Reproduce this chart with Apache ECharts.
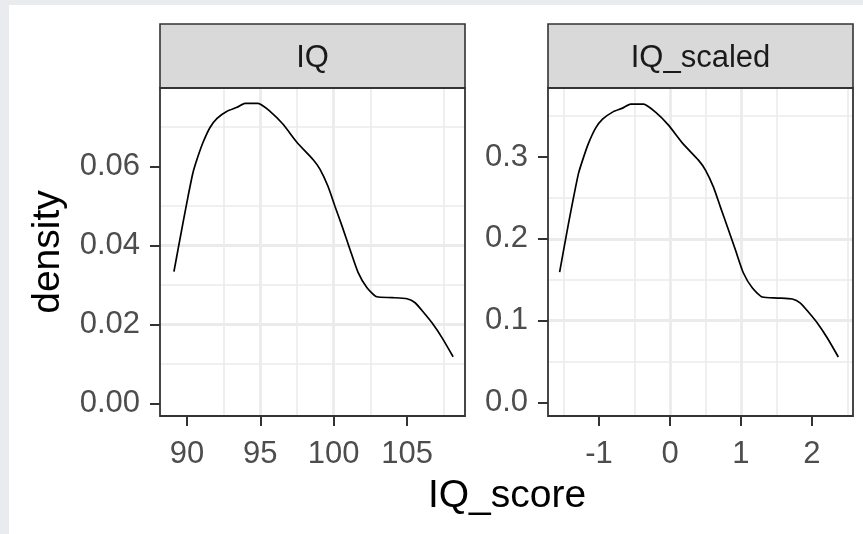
<!DOCTYPE html>
<html>
<head>
<meta charset="utf-8">
<script src="https://cdn.jsdelivr.net/npm/echarts@6/dist/echarts.min.js"></script>
<style>
html,body{margin:0;padding:0;background:#fff;}
#chart{width:863px;height:534px;}
</style>
</head>
<body>
<div id="chart"></div>
<script>
// 左边面板：原始 IQ 的密度曲线
const iqX = [89.11, 89.39, 89.73, 90.07, 90.41, 90.75, 91.09, 91.57, 92.05, 92.73, 93.41, 93.95, 94.84,
  95.66, 96.55, 97.50, 98.59, 99.07, 99.61, 100.09, 100.57, 101.11, 101.66, 102.27, 102.95, 103.98,
  105.00, 105.55, 106.09, 106.70, 107.39, 108.14];
const iqY = [0.0334, 0.0390, 0.0458, 0.0524, 0.0585, 0.0626, 0.0661, 0.0699, 0.0722, 0.0740, 0.0750,
  0.0760, 0.0760, 0.0740, 0.0707, 0.0661, 0.0618, 0.0593, 0.0550, 0.0499, 0.0449, 0.0390, 0.0332,
  0.0293, 0.0270, 0.0268, 0.0265, 0.0255, 0.0232, 0.0204, 0.0166, 0.0118];
// 右边面板：标准化后的 IQ
const scaledX = [-1.556, -1.500, -1.430, -1.359, -1.289, -1.218, -1.148, -1.049, -0.951, -0.810, -0.669,
  -0.556, -0.373, -0.204, -0.021, 0.176, 0.401, 0.500, 0.613, 0.711, 0.810, 0.923, 1.035, 1.162, 1.303,
  1.514, 1.725, 1.838, 1.951, 2.077, 2.218, 2.373];
const scaledY = [0.1595, 0.1864, 0.2194, 0.2511, 0.2804, 0.3000, 0.3171, 0.3354, 0.3464, 0.3550, 0.3599,
  0.3648, 0.3648, 0.3550, 0.3391, 0.3171, 0.2963, 0.2841, 0.2633, 0.2389, 0.2145, 0.1864, 0.1583,
  0.1399, 0.1289, 0.1277, 0.1265, 0.1216, 0.1106, 0.0972, 0.0788, 0.0556];

const panelNames = ['IQ', 'IQ_scaled'];
const iqTicks = [90, 95, 100, 105];
const scaledTicks = [-1, 0, 1, 2];
const iqDensTicks = [0, 0.02, 0.04, 0.06];
const scaledDensTicks = [0, 0.1, 0.2, 0.3];

const FONT = 'Liberation Sans, Arial, sans-serif';
const panels = [
  {left: 160, xMin: 88.16, xMax: 108.95, yMin: -0.0032, yMax: 0.0799, xTicks: iqTicks, yTicks: iqDensTicks, dec: 2, xs: iqX, ys: iqY},
  {left: 548, xMin: -1.72, xMax: 2.58, yMin: -0.0165, yMax: 0.3845, xTicks: scaledTicks, yTicks: scaledDensTicks, dec: 1, xs: scaledX, ys: scaledY}
];
const TOP = 88, W = 305, H = 328, STRIP_TOP = 24;

const gridLine = {show: true, lineStyle: {color: '#ebebeb', width: 2.8}, showMinLine: false, showMaxLine: false};
const minorLine = {show: true, lineStyle: {color: '#ebebeb', width: 1.6}};
const tickStyle = {show: true, length: 10, inside: false, lineStyle: {color: '#333333', width: 2}};

const makeAxis = (p, dir) => {
  const isX = dir === 'x';
  const ticks = isX ? p.xTicks : p.yTicks;
  return {
    type: 'value',
    gridIndex: panels.indexOf(p),
    position: isX ? 'bottom' : 'left',
    min: isX ? p.xMin : p.yMin,
    max: isX ? p.xMax : p.yMax,
    splitNumber: 5,
    axisLine: {show: false, onZero: false},
    axisTick: Object.assign({customValues: ticks}, tickStyle),
    axisLabel: {
      customValues: ticks,
      color: '#4d4d4d', fontSize: 31, fontFamily: FONT,
      margin: isX ? 23 : 20,
      formatter: v => isX ? String(v) : v.toFixed(p.dec)
    },
    splitLine: gridLine,
    minorTick: {show: false, splitNumber: 2},
    minorSplitLine: minorLine
  };
};

const graphics = [
  {type: 'rect', shape: {x: 0, y: 0, width: 9, height: 534}, style: {fill: '#e9ebef'}, silent: true},
  {type: 'rect', shape: {x: 0, y: 0, width: 863, height: 5}, style: {fill: '#e9ebef'}, silent: true},
  {type: 'text', x: 48, y: 252, rotation: Math.PI / 2,
    style: {text: 'density', fill: '#000', fontSize: 39, fontFamily: FONT, align: 'center', verticalAlign: 'middle'}},
  {type: 'text', x: 507, y: 496,
    style: {text: 'IQ_score', fill: '#000', fontSize: 39, fontFamily: FONT, align: 'center', verticalAlign: 'middle'}}
];
panels.forEach((p, i) => {
  graphics.push(
    {type: 'rect', z: 100, shape: {x: p.left, y: STRIP_TOP, width: W, height: TOP - STRIP_TOP},
      style: {fill: '#d9d9d9', stroke: '#333333', lineWidth: 1.6}},
    {type: 'text', z: 101, x: p.left + W / 2, y: 58,
      style: {text: panelNames[i], fill: '#1a1a1a', fontSize: 31, fontFamily: FONT, align: 'center', verticalAlign: 'middle'}},
    {type: 'rect', z: 100, shape: {x: p.left, y: TOP, width: W, height: H},
      style: {fill: 'none', stroke: '#333333', lineWidth: 1.8}}
  );
});

const chart = echarts.init(document.getElementById('chart'), null, {renderer: 'canvas'});
chart.setOption({
  backgroundColor: '#ffffff',
  animation: false,
  grid: panels.map(p => ({left: p.left, top: TOP, width: W, height: H, show: false})),
  xAxis: panels.map(p => makeAxis(p, 'x')),
  yAxis: panels.map(p => makeAxis(p, 'y')),
  series: panels.map((p, i) => ({
    type: 'line',
    xAxisIndex: i,
    yAxisIndex: i,
    data: p.xs.map((x, k) => [x, p.ys[k]]),
    smooth: 0.2,
    showSymbol: false,
    lineStyle: {color: '#000000', width: 1.7}
  })),
  graphic: graphics
});
window.addEventListener('resize', () => {
  chart.resize();
});
</script>
</body>
</html>
